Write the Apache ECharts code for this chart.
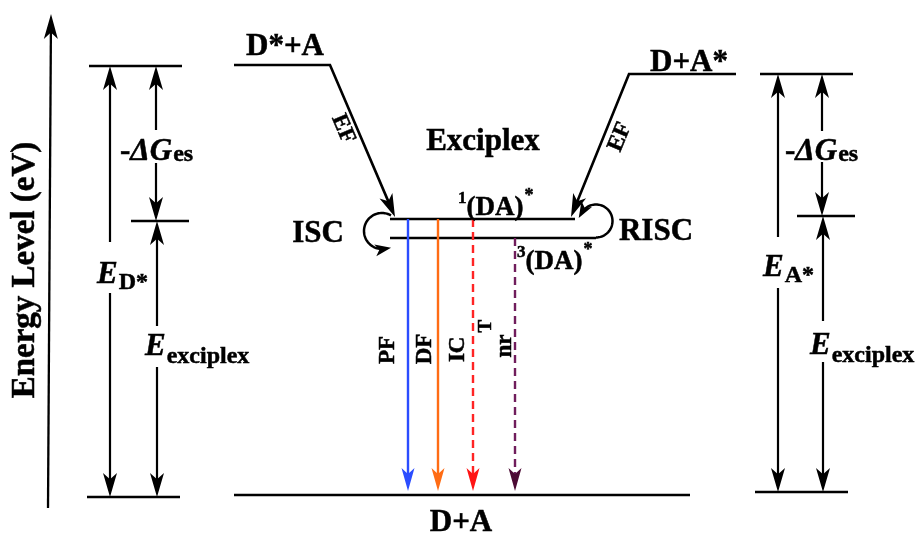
<!DOCTYPE html>
<html>
<head>
<meta charset="utf-8">
<script src="https://cdn.jsdelivr.net/npm/echarts@6/dist/echarts.min.js"></script>
<style>
  html, body { margin: 0; padding: 0; background: #fff; }
  #chart { width: 920px; height: 536px; }
</style>
</head>
<body>
<div id="chart"></div>
<script>
// Exciplex energy diagram drawn on hidden value axes (x 0..920, y 0..536 downward)
const FONT = '"Liberation Serif", "Times New Roman", serif';

// horizontal energy levels: [xStart, xEnd, y]
const levels = [
  [89, 182, 66], [131, 189, 221], [87, 180, 497],      // donor-side scale
  [760, 853, 74], [797, 855, 216], [755, 848, 492],    // acceptor-side scale
  [234, 690, 495]                                      // ground state D+A
];
// energy axis arrow: [xBottom, yBottom, xTop, yTop]
const energyAxis = [[48, 508, 51, 14]];
// double-headed gap arrows with a break for the label: [x, yTop, yBottom, breakTop, breakBottom]
const spanArrows = [
  [110, 66, 497, 242, 293],
  [156, 66, 221, 130, 163],
  [157, 221, 497, 326, 367],
  [778, 74, 492, 237, 288],
  [822, 74, 216, 131, 162],
  [823, 216, 492, 321, 362]
];
// charge-transfer levels bending into exciplex formation: [xLevelEnd, y, xCorner, xTip, yTip]
const transferArrows = [
  [234, 65, 330, 395, 217],
  [736, 74, 629, 571, 217]
];
// exciplex singlet / triplet lines: [xStart, xEnd, y]
const exciplexLines = [[390, 575, 219], [390, 596, 238]];
// ISC / RISC loops: [cx, cy, r, startDeg, endDeg]
const loops = [[382, 231, 18, -60, -280], [596, 221, 16.5, 90, -150]];
// decay channels: [x, yStart, yTip, dashed]
const decayArrows = [[408, 219, 491, 0], [438, 219, 491, 0], [473, 219, 491, 1], [515, 238, 491, 1]];
const decayColors = ['#2b4dff', '#ff6c14', '#ff2424', '#701d5c'];
const decayHeadColors = ['#2b4dff', '#ff6c14', '#ff1414', '#4c0a34'];

// labels
const axisTitle = ['Energy Level (eV)'];
const axisTitlePos = [[25, 270]];
const stateNames = ['D*+A', 'D+A*', 'Exciplex', 'ISC', 'RISC', 'D+A'];
const stateNamePos = [[285, 47], [689, 63], [483, 142], [318, 234], [656, 232], [461, 523]];
const gapMain = ['E', '-ΔG', 'E', 'E', '-ΔG', 'E'];
const gapSub = ['D*', 'es', 'exciplex', 'A*', 'es', 'exciplex'];
const gapPos = [[97, 275], [120, 152], [145, 347], [763, 268], [785, 152], [810, 346]];
const gapSubDrop = [8, 3, 10, 8, 3, 10];
const dimerSpin = ['1', '3'];
const dimerPos = [[458, 208], [517, 262]];
const decayNames = ['PF', 'DF', 'IC', 'nr'];
const decayNamePos = [[388, 350], [425, 349], [458, 341], [505, 346]];
const transferNames = ['EF', 'EF'];
const transferNamePos = [[343, 129], [620, 137]];
const transferNameRot = [-66.8, 67.6];

const chart = echarts.init(document.getElementById('chart'));
const measureCtx = document.createElement('canvas').getContext('2d');

function fontOf(size, italic) {
  return (italic ? 'italic ' : '') + 'bold ' + size + 'px ' + FONT;
}
function textWidth(t, size, italic) {
  measureCtx.font = fontOf(size, italic);
  return measureCtx.measureText(t).width;
}
function seg(a, b, color, w, dash) {
  return {
    type: 'line',
    shape: { x1: a[0], y1: a[1], x2: b[0], y2: b[1] },
    style: { stroke: color, lineWidth: w, lineDash: dash || null }
  };
}
function unit(a, b) {
  const dx = b[0] - a[0], dy = b[1] - a[1];
  const l = Math.hypot(dx, dy);
  return [dx / l, dy / l];
}
// notched arrowhead with its tip at `tip`, pointing along `dir`
function head(tip, dir, len, wid, color) {
  const nx = -dir[1], ny = dir[0];
  const bx = tip[0] - dir[0] * len, by = tip[1] - dir[1] * len;
  return {
    type: 'polygon',
    shape: {
      points: [
        tip,
        [bx + nx * wid / 2, by + ny * wid / 2],
        [tip[0] - dir[0] * len * 0.74, tip[1] - dir[1] * len * 0.74],
        [bx - nx * wid / 2, by - ny * wid / 2]
      ]
    },
    style: { fill: color }
  };
}
// run of text pieces: [text, size, italic, dy, gapBefore]
function textRun(parts, pos, align, rotDeg, color) {
  let w = 0;
  const kids = [];
  parts.forEach(function (p) {
    w += p[4] || 0;
    kids.push({
      type: 'text',
      x: w,
      y: p[3] || 0,
      style: {
        text: p[0], fontSize: p[1], fontFamily: FONT, fontWeight: 'bold',
        fontStyle: p[2] ? 'italic' : 'normal', fill: color || '#000',
        stroke: color || '#000', lineWidth: 0.5,
        align: 'left', verticalAlign: 'middle'
      }
    });
    w += textWidth(p[0], p[1], p[2]);
  });
  const off = align === 'center' ? -w / 2 : 0;
  kids.forEach(function (k) { k.x += off; });
  return { type: 'group', x: pos[0], y: pos[1], rotation: (rotDeg || 0) * Math.PI / 180, children: kids };
}

function customSeries(name, data, render) {
  return {
    type: 'custom', name: name, coordinateSystem: 'cartesian2d',
    data: data, renderItem: render, silent: true, animation: false
  };
}
function indexData(pos) {
  return pos.map(function (p, i) { return [p[0], p[1], i]; });
}

const series = [
  customSeries('levels', levels, function (params, api) {
    const a = api.coord([api.value(0), api.value(2)]);
    const b = api.coord([api.value(1), api.value(2)]);
    return seg(a, b, '#000', 2.7);
  }),
  customSeries('energyAxis', energyAxis, function (params, api) {
    const a = api.coord([api.value(0), api.value(1)]);
    const b = api.coord([api.value(2), api.value(3)]);
    const d = unit(a, b);
    return {
      type: 'group',
      children: [seg(a, [b[0] - d[0] * 16, b[1] - d[1] * 16], '#000', 2.3), head(b, d, 25, 14, '#000')]
    };
  }),
  customSeries('spans', spanArrows, function (params, api) {
    const x = api.value(0);
    const top = api.coord([x, api.value(1)]);
    const bot = api.coord([x, api.value(2)]);
    const g1 = api.coord([x, api.value(3)]);
    const g2 = api.coord([x, api.value(4)]);
    return {
      type: 'group',
      children: [
        seg([top[0], top[1] + 16], g1, '#000', 2.2),
        seg(g2, [bot[0], bot[1] - 16], '#000', 2.2),
        head(top, [0, -1], 24, 14, '#000'),
        head(bot, [0, 1], 24, 14, '#000')
      ]
    };
  }),
  customSeries('transfer', transferArrows, function (params, api) {
    const p0 = api.coord([api.value(0), api.value(1)]);
    const p1 = api.coord([api.value(2), api.value(1)]);
    const tip = api.coord([api.value(3), api.value(4)]);
    const d = unit(p1, tip);
    const back = [tip[0] - d[0] * 14, tip[1] - d[1] * 14];
    return {
      type: 'group',
      children: [
        { type: 'polyline', shape: { points: [p0, p1, back] }, style: { stroke: '#000', lineWidth: 2.6, fill: null } },
        head(tip, d, 23, 14, '#000')
      ]
    };
  }),
  customSeries('exciplexLines', exciplexLines, function (params, api) {
    const a = api.coord([api.value(0), api.value(2)]);
    const b = api.coord([api.value(1), api.value(2)]);
    return seg(a, b, '#000', 2.7);
  }),
  customSeries('loops', loops, function (params, api) {
    const c = api.coord([api.value(0), api.value(1)]);
    const r = Math.abs(api.size([api.value(2), 0])[0]);
    const a0 = api.value(3) * Math.PI / 180, a1 = api.value(4) * Math.PI / 180;
    const pts = [];
    const n = 60;
    for (let i = 0; i <= n; i++) {
      const a = a0 + (a1 - a0) * i / n;
      pts.push([c[0] + r * Math.cos(a), c[1] + r * Math.sin(a)]);
    }
    const s = Math.sign(a1 - a0);
    const d = [-Math.sin(a1) * s, Math.cos(a1) * s];
    const end = pts[n];
    const tip = [end[0] + d[0] * 6, end[1] + d[1] * 6];
    return {
      type: 'group',
      children: [
        { type: 'polyline', shape: { points: pts }, style: { stroke: '#000', lineWidth: 2.5, fill: null } },
        head(tip, d, 16, 12, '#000')
      ]
    };
  }),
  customSeries('decay', decayArrows, function (params, api) {
    const i = params.dataIndex;
    const a = api.coord([api.value(0), api.value(1)]);
    const b = api.coord([api.value(0), api.value(2)]);
    const dashed = api.value(3) === 1;
    return {
      type: 'group',
      children: [
        seg(a, [b[0], b[1] - 14], decayColors[i], 2.4, dashed ? [8, 5] : null),
        head(b, [0, 1], 23, 13, decayHeadColors[i])
      ]
    };
  }),
  customSeries('axisTitle', indexData(axisTitlePos), function (params, api) {
    const p = api.coord([api.value(0), api.value(1)]);
    return textRun([[axisTitle[params.dataIndex], 33, false, 0]], p, 'center', 90);
  }),
  customSeries('stateNames', indexData(stateNamePos), function (params, api) {
    const p = api.coord([api.value(0), api.value(1)]);
    return textRun([[stateNames[params.dataIndex], 31, false, 0]], p, 'center', 0);
  }),
  customSeries('gapLabels', indexData(gapPos), function (params, api) {
    const i = params.dataIndex;
    const p = api.coord([api.value(0), api.value(1)]);
    const m = gapMain[i];
    const parts = [];
    if (m.charAt(0) === '-') {
      parts.push(['-', 31, false, 0]);
      parts.push([m.slice(1), 31, true, 0]);
    } else {
      parts.push([m, 31, true, 0]);
    }
    parts.push([gapSub[i], 24, false, gapSubDrop[i], 1]);
    return textRun(parts, p, 'left', 0);
  }),
  customSeries('dimerLabels', indexData(dimerPos), function (params, api) {
    const i = params.dataIndex;
    const p = api.coord([api.value(0), api.value(1)]);
    return textRun([
      [dimerSpin[i], 17, false, -9],
      ['(DA)', 27, false, 0],
      ['*', 18, false, -12, 1]
    ], p, 'left', 0);
  }),
  customSeries('decayNames', indexData(decayNamePos), function (params, api) {
    const i = params.dataIndex;
    const p = api.coord([api.value(0), api.value(1)]);
    const parts = [[decayNames[i], 23, false, 0]];
    if (decayNames[i] === 'IC') parts.push(['T', 19, false, 28, 4]);
    return textRun(parts, p, 'center', 90);
  }),
  customSeries('transferNames', indexData(transferNamePos), function (params, api) {
    const i = params.dataIndex;
    const p = api.coord([api.value(0), api.value(1)]);
    return textRun([[transferNames[i], 23, false, 0]], p, 'center', transferNameRot[i]);
  })
];

chart.setOption({
  animation: false,
  backgroundColor: '#fff',
  grid: { left: 0, right: 0, top: 0, bottom: 0 },
  xAxis: { type: 'value', min: 0, max: 920, show: false },
  yAxis: { type: 'value', min: 0, max: 536, inverse: true, show: false },
  series: series
});
</script>
</body>
</html>
